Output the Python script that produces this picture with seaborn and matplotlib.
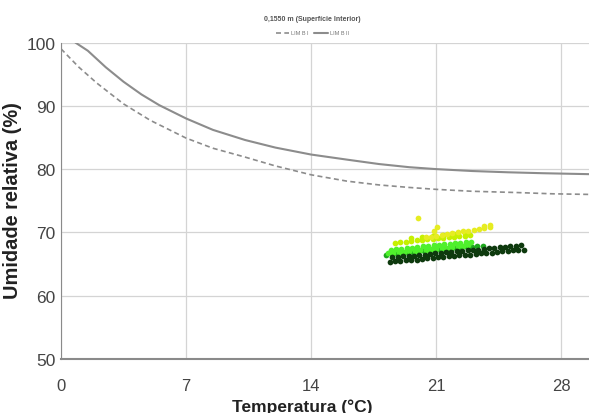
import numpy as np
import pandas as pd
import matplotlib
matplotlib.use("Agg")
import matplotlib.pyplot as plt
import seaborn as sns

# limit curves (isopletas)
limb1_t = [0.0, 1.0, 2.0, 3.5, 5.0, 7.0, 8.5, 10.3, 12.0, 14.0, 16.0, 17.8, 19.5, 21.0, 23.0, 25.5, 27.5, 29.6]
limb1_rh = [99.0, 96.1, 93.6, 90.3, 87.7, 84.9, 83.3, 81.9, 80.5, 79.1, 78.1, 77.5, 77.1, 76.8, 76.5, 76.3, 76.1, 76.0]
limb2_t = [0.8, 1.5, 2.5, 3.5, 4.5, 5.5, 7.0, 8.5, 10.3, 12.0, 14.0, 16.0, 17.8, 19.5, 21.0, 23.0, 25.0, 27.0, 29.6]
limb2_rh = [100.0, 98.7, 96.1, 93.8, 91.8, 90.1, 88.0, 86.2, 84.6, 83.4, 82.3, 81.5, 80.8, 80.3, 80.0, 79.7, 79.5, 79.35, 79.2]

# dark green points
dark_t = [18.4, 18.7, 19.0, 19.3, 19.6, 19.9, 20.2, 20.5, 20.8, 21.1, 21.4, 21.7, 22.0,
          22.3, 22.6, 22.9, 23.2, 23.5, 23.8, 24.1, 24.4, 24.7, 25.0, 25.3, 25.6, 25.9,
          18.55, 18.85, 19.15, 19.45, 19.75, 20.05, 20.35, 20.65, 20.95, 21.25, 21.55, 21.85, 22.15,
          22.45, 22.75, 23.05, 23.35, 23.65, 23.95, 24.25, 24.55, 24.85, 25.15, 25.45, 25.75]
dark_rh = [65.3, 65.5, 65.5, 65.6, 65.7, 65.7, 65.8, 65.9, 66.0, 66.1, 66.1, 66.2, 66.3,
           66.4, 66.4, 66.5, 66.6, 66.7, 66.8, 66.8, 66.9, 67.0, 67.1, 67.2, 67.2, 67.3,
           66.05, 66.1, 66.2, 66.3, 66.35, 66.45, 66.5, 66.6, 66.7, 66.75, 66.85, 66.9, 67.0,
           67.1, 67.15, 67.25, 67.3, 67.4, 67.5, 67.55, 67.65, 67.7, 67.8, 67.9, 68.0]

# medium green points
green_t = [18.2, 18.5, 18.8, 19.1, 19.4, 19.7, 20.0, 20.3, 20.6, 20.9, 21.2, 21.5, 21.8,
           22.1, 22.4, 22.7, 23.0, 23.3, 23.6]
green_rh = [66.45, 66.55, 66.6, 66.7, 66.8, 66.85, 66.95, 67.0, 67.1, 67.2, 67.25, 67.35, 67.4,
            67.5, 67.6, 67.65, 67.75, 67.8, 67.9]

# lime points
lime_t = [18.3, 18.6, 18.9, 19.2, 19.5, 19.8, 20.1, 20.4, 20.7, 21.0, 21.3, 21.6, 21.9, 22.2, 22.5, 22.8,
          18.45, 18.75, 19.05, 19.35, 19.65, 19.95, 20.25, 20.55, 20.85, 21.15, 21.45, 21.75, 22.05, 22.35, 22.65, 22.95]
lime_rh = [66.7, 66.8, 66.85, 66.95, 67.0, 67.1, 67.2, 67.3, 67.35, 67.45, 67.5, 67.6, 67.7, 67.8, 67.85, 67.95,
           67.3, 67.4, 67.45, 67.55, 67.6, 67.7, 67.8, 67.9, 67.95, 68.05, 68.1, 68.2, 68.3, 68.4, 68.45, 68.55]

# yellow-green points
ygreen_t = [18.7, 19.0, 19.3, 19.6, 19.9, 20.2, 20.5, 20.8, 21.1, 21.4, 21.7, 22.0, 22.3, 22.6, 22.9,
            19.6, 20.2, 20.8, 21.4, 22.0, 22.6]
ygreen_rh = [68.4, 68.5, 68.55, 68.65, 68.75, 68.8, 68.9, 69.0, 69.05, 69.15, 69.2, 69.3, 69.4, 69.5, 69.55,
             69.1, 69.25, 69.4, 69.6, 69.75, 69.9]

# yellow points
yellow_t = [20.4, 20.7, 21.0, 21.3, 21.6, 21.9, 22.2, 22.5, 22.8, 23.1, 23.4, 23.7, 24.0,
            20.0, 21.05, 20.9, 23.7, 24.0]
yellow_rh = [69.2, 69.35, 69.5, 69.6, 69.75, 69.9, 70.0, 70.15, 70.3, 70.4, 70.55, 70.7, 70.8,
             72.2, 70.9, 70.3, 71.0, 71.1]

xticks = [0, 7, 14, 21, 28]
yticks = [50, 60, 70, 80, 90, 100]

sns.set_style("white")
plt.rcParams['font.family'] = ['Liberation Sans', 'DejaVu Sans']

fig = plt.figure(figsize=(5.89, 4.14), dpi=100)
ax = fig.add_axes([0.1036, 0.1304, 0.8964, 0.7645])

sns.lineplot(x=limb1_t, y=limb1_rh, ax=ax, color='#8c8c8c', lw=1.2, linestyle=(0, (3, 2)), label='LIM B I')
sns.lineplot(x=limb2_t, y=limb2_rh, ax=ax, color='#8c8c8c', lw=1.5, label='LIM B II')

groups = [(green_t, green_rh, '#1ea81e'),
          (lime_t, lime_rh, '#4ff02c'),
          (ygreen_t, ygreen_rh, '#c6f000'),
          (yellow_t, yellow_rh, '#e6ec22'),
          (dark_t, dark_rh, '#0e3a0e')]
for t, rh, c in groups:
    sns.scatterplot(x=t, y=rh, ax=ax, color=c, s=17, linewidth=0, legend=False)

ax.set_xlim(0, 29.55)
ax.set_ylim(50, 100)
ax.set_xticks(xticks)
ax.set_yticks(yticks)
ax.grid(True, color='#d4d4d4', lw=0.9)
ax.tick_params(axis='x', length=0, pad=14, labelsize=12, labelcolor='#444444')
ax.tick_params(axis='y', length=2, color='#8fb0d0', pad=2, labelsize=12.5, labelcolor='#444444')
for s in ['top', 'right']:
    ax.spines[s].set_visible(False)
ax.spines['left'].set_color('#8a8a8a')
ax.spines['bottom'].set_color('#8a8a8a')
ax.spines['bottom'].set_linewidth(1.5)

ax.set_xlabel('Temperatura (°C)', fontsize=12.5, fontweight='bold', color='#222222')
ax.set_ylabel('Umidade relativa (%)', fontsize=14.4, fontweight='bold', color='#222222')
ax.xaxis.set_label_coords(0.456, -0.125)
ax.yaxis.set_label_coords(-0.074, 0.505)

handles, labels = ax.get_legend_handles_labels()
ax.get_legend().remove()
fig.legend(handles, labels, loc='center', bbox_to_anchor=(0.53, 0.918), ncol=2, frameon=False,
           fontsize=4, handlelength=2.5, handletextpad=0.3, columnspacing=1.0, labelcolor='#777777')
fig.text(0.53, 0.952, '0,1550 m (Superfície Interior)', ha='center', va='center', fontsize=5,
         fontweight='bold', color='#555555')

fig.savefig('out.png', dpi=100)
